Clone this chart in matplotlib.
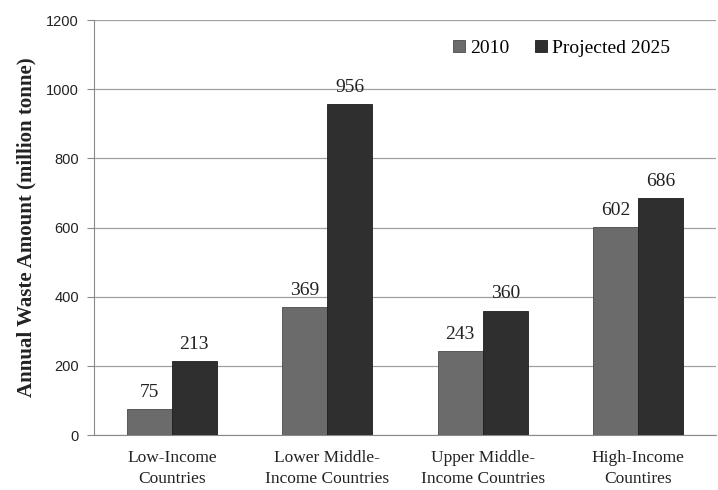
import numpy as np
import matplotlib
matplotlib.use("Agg")
import matplotlib.pyplot as plt

# Waste amounts by income group (million tonne)
categories = ["Low-Income\nCountries", "Lower Middle-\nIncome Countries",
              "Upper Middle-\nIncome Countries", "High-Income\nCountires"]
waste_2010 = [75, 369, 243, 602]
waste_2025 = [213, 956, 360, 686]
series_labels = ["2010", "Projected 2025"]

serif = "Liberation Serif"
sans = "Liberation Sans"

fig = plt.figure(figsize=(7.18, 4.9), dpi=100)
ax = fig.add_axes([0.131, 0.112, 0.866, 0.847])

x = np.arange(len(categories))
w = 0.29
b1 = ax.bar(x - w / 2, waste_2010, w, color="#6b6b6b", edgecolor="#4a4a4a",
            linewidth=0.6, label=series_labels[0], zorder=3)
b2 = ax.bar(x + w / 2, waste_2025, w, color="#2f2f2f", edgecolor="#1e1e1e",
            linewidth=0.6, label=series_labels[1], zorder=3)

for bars in (b1, b2):
    for r in bars:
        ax.annotate(f"{int(r.get_height())}", (r.get_x() + r.get_width() / 2, r.get_height()),
                    xytext=(0, 6), textcoords="offset points", ha="center", va="bottom",
                    family=serif, fontsize=14, color="#222222")

ax.set_xlim(-0.5, 3.5)
ax.set_ylim(0, 1200)
ax.set_yticks(range(0, 1201, 200))
ax.set_xticks(x)
ax.set_xticklabels(categories, family=serif, fontsize=12.5, color="#222222",
                   linespacing=1.4)
for t in ax.get_yticklabels():
    t.set_family(sans)
    t.set_fontsize(10.5)
    t.set_color("#222222")

ax.yaxis.grid(True, color="#a0a0a0", linewidth=0.9, zorder=0)
ax.set_axisbelow(True)
for s in ["top", "right"]:
    ax.spines[s].set_visible(False)
ax.spines["left"].set_color("#8a8a8a")
ax.spines["bottom"].set_color("#8a8a8a")
ax.tick_params(axis="y", length=5, color="#8a8a8a", pad=6)
ax.tick_params(axis="x", length=0, pad=11)

ax.set_ylabel("Annual Waste Amount (million tonne)", family=serif, fontweight="bold",
              fontsize=15, color="#222222", labelpad=7)

leg = ax.legend(loc="upper right", bbox_to_anchor=(0.955, 0.995), frameon=False, ncol=2,
                prop={"family": serif, "size": 14}, handlelength=0.6, handleheight=0.6,
                handletextpad=0.3, columnspacing=1.3)

fig.savefig("out.png", dpi=100)
